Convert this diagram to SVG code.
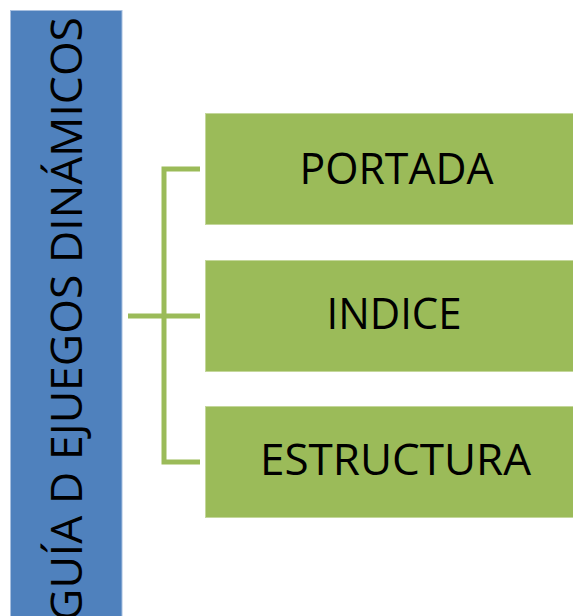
<svg xmlns="http://www.w3.org/2000/svg" width="573" height="616" viewBox="0 0 573 616">
<style>
.box{fill:#9BBB59;stroke:#c4d79b;stroke-width:1}
.lbl{font-family:"Open Sans","Liberation Sans",sans-serif;font-size:43px;fill:#000}
.conn{fill:none;stroke:#9BBB59;stroke-width:5}
</style>
<rect width="573" height="616" fill="#fff"/>
<g id="title">
<rect x="10.5" y="10.5" width="111.5" height="620" fill="#4F81BD" stroke="#a7bfdf" stroke-width="1"/>
<text class="lbl" transform="translate(82,15) rotate(-90)" x="-606" y="0" textLength="604" lengthAdjust="spacingAndGlyphs">GUÍA D EJUEGOS DINÁMICOS</text>
</g>
<g id="connectors">
<path class="conn" d="M200,169 H164 V462 H200"/>
<path class="conn" d="M128,316 H200"/>
</g>
<g id="portada">
<rect class="box" x="205.5" y="113.5" width="372" height="111"/>
<text class="lbl" x="299.5" y="183.5" textLength="194" lengthAdjust="spacingAndGlyphs">PORTADA</text>
</g>
<g id="indice">
<rect class="box" x="205.5" y="260.5" width="372" height="111"/>
<text class="lbl" x="326.5" y="328.5" textLength="135" lengthAdjust="spacingAndGlyphs">INDICE</text>
</g>
<g id="estructura">
<rect class="box" x="205.5" y="406.5" width="372" height="111"/>
<text class="lbl" x="260" y="475" textLength="271" lengthAdjust="spacingAndGlyphs">ESTRUCTURA</text>
</g>
</svg>
